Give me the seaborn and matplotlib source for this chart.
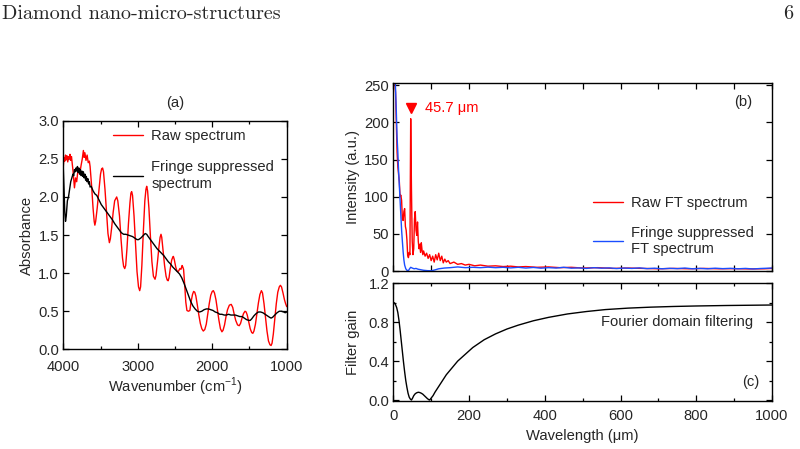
import numpy as np
import pandas as pd
import matplotlib
matplotlib.use('Agg')
import matplotlib.pyplot as plt
from matplotlib.ticker import MultipleLocator
import seaborn as sns

# ---- panel (a): absorbance vs wavenumber ----
raw_wn = [4000, 3990, 3980, 3970, 3960, 3950, 3940, 3930, 3920, 3910, 3900, 3890,
          3870, 3850, 3835, 3820, 3800, 3780, 3760, 3745, 3730, 3720, 3710, 3695,
          3680, 3665, 3650, 3640, 3620, 3600, 3585, 3576, 3565, 3545, 3520, 3500,
          3485, 3472, 3460, 3440, 3420, 3400, 3381, 3368, 3350, 3330, 3310, 3283,
          3268, 3245, 3225, 3205, 3190, 3175, 3162, 3145, 3125, 3105, 3092, 3082,
          3070, 3050, 3030, 3010, 2990, 2974, 2962, 2945, 2925, 2905, 2890, 2880,
          2868, 2850, 2830, 2810, 2790, 2768, 2755, 2735, 2715, 2700, 2688, 2678,
          2660, 2640, 2620, 2605, 2592, 2580, 2565, 2545, 2530, 2522, 2510, 2490,
          2475, 2462, 2450, 2435, 2420, 2405, 2395, 2385, 2370, 2355, 2340, 2320,
          2300, 2285, 2265, 2250, 2235, 2220, 2200, 2180, 2160, 2140, 2120, 2100,
          2080, 2060, 2040, 2020, 2000, 1985, 1970, 1950, 1930, 1910, 1890, 1870,
          1855, 1835, 1815, 1795, 1770, 1745, 1725, 1705, 1685, 1660, 1638, 1620,
          1600, 1580, 1560, 1545, 1530, 1510, 1490, 1470, 1455, 1440, 1420, 1400,
          1380, 1360, 1340, 1325, 1305, 1285, 1265, 1245, 1225, 1210, 1197, 1180,
          1160, 1140, 1120, 1100, 1085, 1070, 1050, 1030, 1015, 1000]
raw_abs = [2.40, 2.52, 2.47, 2.55, 2.49, 2.54, 2.46, 2.53, 2.50, 2.56, 2.48, 2.53,
           2.35, 2.12, 2.25, 2.20, 2.38, 2.30, 2.42, 2.50, 2.61, 2.52, 2.58, 2.48,
           2.55, 2.45, 2.47, 2.40, 2.15, 1.85, 1.68, 1.63, 1.68, 1.85, 2.10, 2.30,
           2.37, 2.38, 2.33, 2.10, 1.80, 1.52, 1.40, 1.45, 1.60, 1.80, 1.95, 2.00,
           1.95, 1.75, 1.45, 1.20, 1.09, 1.06, 1.10, 1.32, 1.65, 1.92, 2.05, 2.07,
           2.02, 1.75, 1.38, 1.02, 0.82, 0.77, 0.82, 1.10, 1.55, 1.95, 2.10, 2.14,
           2.08, 1.85, 1.48, 1.15, 0.96, 0.92, 0.97, 1.15, 1.35, 1.47, 1.51, 1.47,
           1.30, 1.10, 0.96, 0.91, 0.90, 0.94, 1.05, 1.17, 1.21, 1.22, 1.18, 1.08,
           1.03, 1.02, 1.03, 1.06, 1.05, 1.10, 1.08, 1.05, 0.85, 0.62, 0.51, 0.50,
           0.51, 0.62, 0.72, 0.76, 0.75, 0.70, 0.58, 0.45, 0.34, 0.27, 0.24, 0.26,
           0.33, 0.46, 0.60, 0.71, 0.76, 0.77, 0.74, 0.65, 0.52, 0.38, 0.27, 0.23,
           0.25, 0.32, 0.43, 0.52, 0.58, 0.59, 0.55, 0.46, 0.38, 0.32, 0.31, 0.34,
           0.41, 0.47, 0.50, 0.49, 0.45, 0.36, 0.27, 0.22, 0.21, 0.24, 0.33, 0.47,
           0.61, 0.72, 0.77, 0.74, 0.60, 0.42, 0.24, 0.11, 0.06, 0.05, 0.08, 0.20,
           0.40, 0.60, 0.75, 0.82, 0.84, 0.82, 0.74, 0.65, 0.60, 0.56]

fs_wn = [4000, 3990, 3980, 3970, 3960, 3945, 3930, 3915, 3900, 3885, 3870, 3860,
         3850, 3840, 3830, 3820, 3810, 3800, 3790, 3780, 3770, 3760, 3750, 3740,
         3730, 3720, 3710, 3700, 3690, 3680, 3670, 3660, 3650, 3640, 3625, 3600,
         3575, 3550, 3520, 3490, 3460, 3430, 3400, 3370, 3340, 3310, 3280, 3250,
         3220, 3190, 3160, 3130, 3100, 3070, 3040, 3010, 2990, 2960, 2930, 2900,
         2880, 2860, 2830, 2800, 2770, 2740, 2710, 2680, 2650, 2620, 2590, 2560,
         2530, 2500, 2470, 2440, 2410, 2380, 2350, 2320, 2290, 2260, 2230, 2200,
         2170, 2140, 2110, 2080, 2050, 2020, 1990, 1960, 1930, 1900, 1870, 1840,
         1810, 1780, 1750, 1720, 1690, 1660, 1630, 1600, 1570, 1540, 1510, 1490,
         1470, 1440, 1410, 1380, 1350, 1320, 1290, 1260, 1230, 1210, 1190, 1160,
         1130, 1100, 1070, 1040, 1020, 1000]
fs_abs = [2.38, 2.10, 1.80, 1.68, 1.75, 1.95, 2.00, 2.10, 2.20, 2.25, 2.30, 2.28,
          2.36, 2.33, 2.38, 2.34, 2.40, 2.32, 2.38, 2.30, 2.36, 2.28, 2.34, 2.27,
          2.33, 2.25, 2.30, 2.22, 2.27, 2.20, 2.24, 2.17, 2.20, 2.13, 2.14, 2.08,
          2.04, 2.02, 1.96, 1.90, 1.86, 1.82, 1.78, 1.74, 1.70, 1.65, 1.61, 1.57,
          1.53, 1.51, 1.51, 1.50, 1.49, 1.48, 1.46, 1.44, 1.44, 1.46, 1.49, 1.52,
          1.51, 1.48, 1.44, 1.40, 1.36, 1.32, 1.29, 1.26, 1.23, 1.19, 1.15, 1.12,
          1.08, 1.05, 1.02, 0.99, 0.94, 0.87, 0.79, 0.71, 0.63, 0.57, 0.53, 0.50,
          0.49, 0.50, 0.52, 0.53, 0.53, 0.52, 0.51, 0.49, 0.48, 0.46, 0.46, 0.45,
          0.45, 0.46, 0.45, 0.45, 0.45, 0.44, 0.43, 0.43, 0.41, 0.39, 0.38, 0.38,
          0.40, 0.44, 0.47, 0.49, 0.49, 0.48, 0.46, 0.44, 0.42, 0.41, 0.42, 0.45,
          0.48, 0.50, 0.50, 0.49, 0.48, 0.49]

# ---- panel (b): FT spectra vs wavelength (um) ----
ft_raw_wl = [2, 4, 6, 8, 10, 12, 14, 16, 18, 20, 22, 24, 26, 28, 30, 32, 34, 36,
             38, 40, 42, 44, 45, 46, 48, 50, 52, 54, 56, 58, 60, 62, 64, 66, 68,
             70, 72, 74, 76, 78, 80, 84, 88, 92, 96, 100, 104, 108, 112, 116, 120,
             124, 128, 132, 136, 140, 145, 150, 160, 170, 180, 190, 200, 215, 230,
             250, 270, 290, 310, 330, 350, 380, 410, 440, 470, 500, 540, 580, 620,
             660, 700, 740, 780, 820, 860, 900, 940, 980, 1000]
ft_raw_int = [270, 255, 240, 200, 160, 140, 130, 120, 100, 102, 95, 70, 68, 80,
              84, 60, 55, 42, 21, 18, 25, 22, 120, 205, 110, 40, 22, 30, 70, 80,
              55, 48, 66, 40, 30, 36, 25, 38, 28, 22, 27, 20, 24, 17, 22, 14, 20,
              12, 22, 15, 24, 14, 20, 11, 16, 12, 14, 10, 12, 9, 10, 8, 9, 7, 8,
              6.5, 7, 6, 6.5, 5.5, 6, 5, 5.5, 4.5, 5, 4, 4.5, 3.5, 4, 3.5, 3, 3.5,
              3, 3.5, 3, 3.2, 2.8, 3, 3.5]

ft_fs_wl = [2, 5, 8, 10, 12, 14, 16, 18, 20, 22, 24, 26, 28, 30, 33, 36, 40, 43,
            46, 50, 55, 60, 65, 70, 80, 90, 100, 110, 120, 135, 150, 170, 190,
            210, 230, 250, 270, 290, 310, 330, 350, 370, 390, 410, 430, 450, 470,
            490, 510, 530, 550, 570, 590, 610, 630, 650, 670, 690, 710, 730, 750,
            770, 790, 810, 830, 850, 870, 890, 910, 930, 950, 970, 990, 1000]
ft_fs_int = [280, 260, 215, 180, 160, 135, 115, 95, 75, 55, 40, 26, 15, 8, 3, 1,
             0.5, 3, 5, 4, 3, 3.5, 2.5, 2, 1, 0.5, 0.3, 1.5, 3, 4, 4.5, 5.5, 4.5,
             5, 4.5, 5.2, 4.5, 5, 4.2, 5, 4, 4.8, 3.8, 4.5, 4, 5, 3.8, 4.2, 3.5,
             4.5, 3.8, 4.2, 3.3, 4, 3.5, 4.2, 3.2, 3.8, 3, 3.6, 3.2, 4, 3, 3.5, 3,
             3.8, 3.2, 3.6, 3, 3.5, 2.8, 3.4, 3.8, 4]

peak_wl = 46
peak_label = '45.7 \u03bcm'

# ---- panel (c): filter gain ----
filt_wl = [0, 3, 6, 9, 12, 15, 18, 21, 24, 27, 30, 33, 36, 39, 42, 45, 48, 51,
           54, 58, 62, 66, 70, 74, 78, 82, 86, 90, 94, 96, 100, 105, 110, 120,
           130, 140, 155, 170, 190, 210, 240, 270, 300, 330, 370, 410, 460, 510,
           560, 620, 680, 740, 800, 880, 1000]
filt_gain = [1.00, 1.00, 0.98, 0.95, 0.90, 0.82, 0.72, 0.61, 0.50, 0.39, 0.29,
             0.20, 0.13, 0.07, 0.03, 0.01, 0.0, 0.02, 0.045, 0.065, 0.075, 0.08,
             0.077, 0.07, 0.06, 0.045, 0.03, 0.015, 0.003, 0.0, 0.02, 0.045,
             0.08, 0.14, 0.20, 0.26, 0.33, 0.40, 0.47, 0.54, 0.62, 0.68, 0.73,
             0.77, 0.815, 0.85, 0.885, 0.91, 0.93, 0.945, 0.955, 0.962, 0.967,
             0.972, 0.977]

RED = '#ff0000'
BLUE = '#1a4dff'

sns.set_style('ticks')
plt.rcParams['font.family'] = ['Liberation Sans', 'DejaVu Sans']
plt.rcParams['mathtext.fontset'] = 'custom'
plt.rcParams['mathtext.rm'] = 'Liberation Sans'
FS = 10.6


def style_axes(ax, xpad=3.0):
    ax.tick_params(which='both', direction='in', top=True, right=True,
                   labelsize=FS, color='black', pad=3)
    ax.tick_params(axis='x', which='both', pad=xpad)
    ax.tick_params(which='major', length=4, width=0.9)
    ax.tick_params(which='minor', length=2.5, width=0.9)
    for sp in ax.spines.values():
        sp.set_linewidth(1.0)
        sp.set_color('black')


fig = plt.figure(figsize=(8, 4.49), dpi=100)

# header of the page
fig.text(0.003, 0.968, 'Diamond nano-micro-structures', family='cmr10',
         fontsize=14.5, va='center', ha='left')
fig.text(0.992, 0.968, '6', family='cmr10', fontsize=14.5, va='center', ha='right')

# (a)
ax_a = fig.add_axes([0.0791, 0.222, 0.2793, 0.509])
df_raw = pd.DataFrame({'wn': raw_wn, 'A': raw_abs})
df_fs = pd.DataFrame({'wn': fs_wn, 'A': fs_abs})
sns.lineplot(data=df_raw, x='wn', y='A', ax=ax_a, color=RED, lw=1.0,
             estimator=None, label='Raw spectrum')
sns.lineplot(data=df_fs, x='wn', y='A', ax=ax_a, color='black', lw=1.0,
             estimator=None, label='Fringe suppressed\nspectrum')
ax_a.set_xlim(4000, 1000)
ax_a.set_ylim(0, 3.0)
ax_a.xaxis.set_major_locator(MultipleLocator(1000))
ax_a.xaxis.set_minor_locator(MultipleLocator(500))
ax_a.yaxis.set_major_locator(MultipleLocator(0.5))
ax_a.set_xlabel('Wavenumber (cm$^{\\mathregular{-1}}$)', fontsize=FS)
ax_a.set_ylabel('Absorbance', fontsize=FS)
ax_a.xaxis.set_label_coords(0.5, -0.115)
ax_a.yaxis.set_label_coords(-0.13, 0.5)
ax_a.set_title('(a)', fontsize=FS, pad=10)
style_axes(ax_a, xpad=7.5)
ax_a.legend(loc='upper left', bbox_to_anchor=(0.222, 0.965), frameon=False,
            fontsize=FS, handlelength=2.05, handletextpad=0.55, labelspacing=1.2,
            borderpad=0, borderaxespad=0)

# (b)
ax_b = fig.add_axes([0.4916, 0.3964, 0.4734, 0.4187])
df_ftr = pd.DataFrame({'wl': ft_raw_wl, 'I': ft_raw_int})
df_ftf = pd.DataFrame({'wl': ft_fs_wl, 'I': ft_fs_int})
sns.lineplot(data=df_ftr, x='wl', y='I', ax=ax_b, color=RED, lw=1.0,
             estimator=None, label='Raw FT spectrum')
sns.lineplot(data=df_ftf, x='wl', y='I', ax=ax_b, color=BLUE, lw=1.0,
             estimator=None, label='Fringe suppressed\nFT spectrum')
ax_b.set_xlim(0, 1000)
ax_b.set_ylim(0, 253)
ax_b.xaxis.set_major_locator(MultipleLocator(100))
ax_b.yaxis.set_major_locator(MultipleLocator(50))
ax_b.set_xlabel('')
ax_b.set_ylabel('Intensity (a.u.)', fontsize=FS)
ax_b.yaxis.set_label_coords(-0.088, 0.5)
style_axes(ax_b)
ax_b.tick_params(labelbottom=False)
ax_b.plot([peak_wl], [219], marker='v', color=RED, markersize=7, ls='none')
ax_b.text(peak_wl + 38, 219, peak_label, color=RED, fontsize=FS,
          va='center', ha='left')
ax_b.text(0.947, 0.9, '(b)', transform=ax_b.transAxes, fontsize=FS,
          ha='right', va='center')
ax_b.legend(loc='upper left', bbox_to_anchor=(0.527, 0.40), frameon=False,
            fontsize=FS, handlelength=2.05, handletextpad=0.55, labelspacing=1.1,
            borderpad=0, borderaxespad=0)

# (c)
ax_c = fig.add_axes([0.4916, 0.1058, 0.4734, 0.2632])
df_filt = pd.DataFrame({'wl': filt_wl, 'g': filt_gain})
sns.lineplot(data=df_filt, x='wl', y='g', ax=ax_c, color='black', lw=1.0,
             estimator=None)
ax_c.set_xlim(0, 1000)
ax_c.set_ylim(-0.015, 1.2)
ax_c.xaxis.set_major_locator(MultipleLocator(200))
ax_c.xaxis.set_minor_locator(MultipleLocator(100))
ax_c.yaxis.set_major_locator(MultipleLocator(0.4))
ax_c.yaxis.set_minor_locator(MultipleLocator(0.2))
ax_c.set_xlabel('Wavelength (\u03bcm)', fontsize=FS)
ax_c.set_ylabel('Filter gain', fontsize=FS)
ax_c.xaxis.set_label_coords(0.5, -0.235)
ax_c.yaxis.set_label_coords(-0.088, 0.5)
style_axes(ax_c, xpad=5.2)
ax_c.text(0.951, 0.675, 'Fourier domain filtering', transform=ax_c.transAxes,
          fontsize=FS, ha='right', va='center')
ax_c.text(0.967, 0.168, '(c)', transform=ax_c.transAxes, fontsize=FS,
          ha='right', va='center')

fig.savefig('out.png', dpi=100)
